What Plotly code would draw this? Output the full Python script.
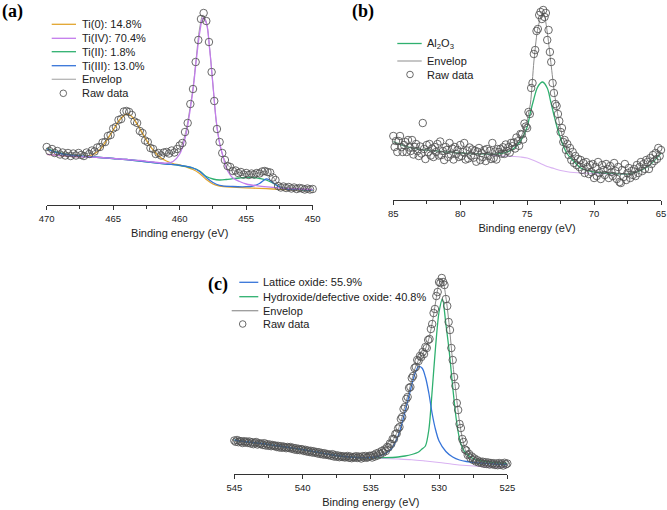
import numpy as np
import plotly.graph_objects as go

# ---------------- Panel (a): Ti 2p ----------------
a_raw_E = np.round(np.arange(470.0, 449.95, -0.2), 1)
a_raw_I = [58, 54, 56, 52, 54, 50.5, 52.5, 49.5, 52, 49,
           51.5, 49.5, 52, 50, 49, 52.5, 51, 54.5, 53.5, 57.5,
           58, 62.5, 63, 69, 70, 76.5, 78, 85, 86, 93.5,
           94, 93, 90, 83.5, 82, 74, 72, 64.5, 63, 57,
           56, 51, 52, 49.5, 52.5, 53, 51.5, 54.5, 52.5, 56,
           59.5, 62, 73, 82, 101, 116, 143, 165, 186, 192,
           184, 163, 133, 104, 76, 63, 52, 45, 39, 38,
           34, 34.5, 32, 33, 30.5, 32, 30, 31.5, 30.5, 32,
           31.5, 33.5, 34, 33, 32.5, 27.5, 25, 19, 17.5, 18.5,
           17, 18, 16.5, 17.5, 16, 17, 16.5, 15.5, 16.5, 15.5,
           16]

a_env_E = [470, 469.5, 469, 468.5, 468, 467.5, 467, 466.5, 466, 465.5, 465, 464.5, 464, 463.5, 463,
           462.5, 462, 461.5, 461, 460.5, 460, 459.75, 459.5, 459.25, 459, 458.75, 458.5, 458.25,
           458, 457.75, 457.5, 457.25, 457, 456.75, 456.5, 456, 455.5, 455, 454.5, 454, 453.5,
           453, 452.75, 452.5, 452, 451, 450]
a_env_I = [56.5, 54, 52, 51, 50.6, 50.7, 51.4, 53.7, 58.5, 65.5, 75, 84.5, 91, 87, 75.5,
           64, 55, 50.8, 51.7, 52.7, 57.5, 64, 76, 95, 117, 148, 177, 190,
           183, 157, 120, 83, 62, 49, 42, 35, 32.3, 31, 30.9, 32.2, 33.5,
           28.5, 23.5, 19, 17.3, 16.5, 15.4]

a_ti0_E = [470, 469, 468, 467, 466.5, 466, 465.5, 465, 464.5, 464, 463.75, 463.5, 463, 462.5, 462,
           461.5, 461, 460.5, 460, 459.5, 459, 458.5, 458, 457.5, 457, 456, 455, 454, 453, 452, 451, 450]
a_ti0_I = [50.7, 49.5, 48.5, 48.7, 50.5, 55.5, 64.5, 75, 85.5, 91, 90, 87, 76.5, 65, 55,
           48, 44, 41.5, 40, 38, 35.5, 31.5, 25.5, 21, 19, 17.8, 17.2, 16.6, 16, 15.4, 14.9, 14.4]

a_ti4_E = [470, 469, 468, 467, 466, 465, 464, 463, 462, 461, 460.5, 460, 459.75, 459.5, 459.25,
           459, 458.75, 458.5, 458.25, 458, 457.75, 457.5, 457.25, 457, 456.75, 456.5, 456.25,
           456, 455.5, 455, 454, 453, 452, 451, 450]
a_ti4_I = [50.7, 49.5, 48.5, 48, 47.5, 46.5, 45.5, 44.5, 43, 41.8, 43.5, 51, 60, 72, 92,
           115, 145, 172, 187, 182, 156, 120, 84, 62, 49, 37, 31,
           27, 23.5, 21, 18.8, 17.6, 16.7, 16, 15.5]

a_ti2_E = [470, 469.5, 469, 468, 467, 466, 465, 464, 463, 462, 461, 460, 459, 458.5, 458, 457.5,
           457, 456.5, 456, 455.5, 455, 454.5, 454, 453.5, 453, 452.5, 452, 451, 450]
a_ti2_I = [56.7, 54, 52, 49.5, 48.5, 47.5, 46.5, 45.5, 44, 42.5, 41, 39.5, 37, 34, 28.5, 26,
           25, 25.5, 26.3, 27, 27.5, 27.5, 26.5, 25, 22, 18, 16.5, 15.5, 15]

a_ti3_E = [470, 469.5, 469, 468, 467, 466, 465, 464, 463, 462, 461, 460, 459, 458.5, 458, 457.5,
           457, 456, 455, 454.5, 454, 453.5, 453.25, 453, 452.5, 452, 451, 450]
a_ti3_I = [56, 53.5, 51.5, 49.5, 48.5, 47.5, 46.5, 45.5, 44, 42.5, 41, 39.7, 37, 33.5, 27.5, 22.5,
           19.7, 18.5, 18.3, 19, 21.5, 26, 25, 22.5, 18, 16, 15.3, 14.8]

a_labels = ["Ti(0): 14.8%", "Ti(IV): 70.4%", "Ti(II): 1.8%", "Ti(III): 13.0%", "Envelop", "Raw data"]

# ---------------- Panel (b): Al 2p ----------------
b_raw_E = np.round(np.arange(85.0, 64.95, -0.1), 1)
b_raw_I = [64, 53, 59, 48, 59, 64, 53, 48, 55, 58,
           48, 60, 52.5, 49, 60, 45.5, 53, 56, 49, 44,
           53.5, 46.5, 77, 51, 41, 55, 48, 56, 44.5, 51.5,
           43, 53, 48, 56, 44.5, 58.5, 45, 49, 40, 53,
           50, 43, 57, 45.5, 51.5, 40.5, 53, 46, 50, 43,
           55, 44, 48, 57, 40.5, 49.5, 41.5, 52.5, 44.5, 50.5,
           42.3, 49.3, 38.3, 48.3, 52, 40, 47, 43, 50, 39,
           51, 44, 49, 41, 57, 42, 48.5, 40.5, 51, 48,
           51, 46.3, 52.7, 46.1, 55.5, 49, 52.7, 47.4, 57.1, 53.8,
           57.5, 51.5, 62.5, 58.7, 54.2, 66, 65.5, 60.5, 76.5, 73.5,
           72, 88, 86, 112, 117, 146, 150, 169, 171, 185,
           188, 181, 190, 183, 187, 160, 170, 148, 138, 117,
           107, 96, 94, 86, 79, 68, 72, 58, 60, 50,
           56, 45, 52, 40, 48, 37, 44, 35, 41, 33,
           40, 30, 37, 27, 38, 33, 26, 35, 28, 36,
           22, 33, 24, 38, 27, 21, 35, 30, 25, 36,
           31, 22, 34, 28, 24, 37, 29, 21, 33, 18,
           17, 30, 23, 36, 20, 27, 32, 22, 29, 25,
           31, 24, 35, 27, 33, 38, 29, 36, 31, 40,
           38, 31, 42, 36, 45, 39, 47, 41, 52, 44,
           50]

b_env_E = [85, 84, 83, 82, 81, 80, 79, 78, 77, 76.5, 76, 75.5, 75.25, 75, 74.75, 74.5, 74.25, 74,
           73.75, 73.5, 73.25, 73, 72.75, 72.5, 72.25, 72, 71.5, 71, 70.5, 70, 69, 68, 67.5, 67, 66, 65]
b_env_I = [58.3, 53.3, 50.7, 49.3, 48, 47, 46.3, 46.2, 47.5, 50, 54, 62, 70, 80, 97, 138, 168, 182,
           186, 168, 140, 111, 88, 71, 59, 51.5, 42, 35.5, 31, 29, 27.5, 26.5, 26.3, 27.5, 33.5, 47]

b_al_E = [85, 84, 83, 82, 81, 80, 79, 78, 77, 76.5, 76, 75.5, 75.25, 75, 74.75, 74.5, 74.25, 74,
          73.85, 73.5, 73.25, 73, 72.75, 72.5, 72.25, 72, 71.5, 71, 70.5, 70, 69, 68, 67.5, 67, 66, 65]
b_al_I = [58.3, 53.3, 50.7, 49.3, 48, 47, 46.3, 46, 46.3, 48, 51.5, 59, 65, 73, 88, 101, 112, 117,
          118, 112, 99, 85, 72, 61.5, 52.5, 46, 38.5, 32, 29.5, 28, 27, 26.2, 26, 27.3, 33.3, 46.7]

b_bg_E = [78, 77.5, 77, 76.5, 76, 75.5, 75, 74.5, 74, 73.5, 73, 72.5, 72, 71.5, 71, 70, 69, 68, 67.5]
b_bg_I = [45.5, 44.5, 44, 43.8, 43.5, 43, 42, 39.5, 36.5, 33.5, 31.5, 29.5, 28.3, 27.5, 27, 26.5, 26.2, 26, 25.9]

b_labels = ["Al<sub>2</sub>O<sub>3</sub>", "Envelop", "Raw data"]

# ---------------- Panel (c): O 1s ----------------
c_raw_E = np.round(np.arange(545.0, 524.95, -0.1), 1)
c_raw_I = [33.5, 32.2, 34, 31.8, 33, 32.5, 31, 32.8, 31.5, 32.5,
           31, 32.5, 30.5, 31.8, 29.8, 31.2, 32, 29.5, 30.8, 30,
           30.5, 29, 30.8, 28.5, 29.8, 28.2, 29.5, 27.8, 29, 28,
           28.5, 27, 28.2, 26.5, 27.8, 26.2, 27.5, 26.8, 25.8, 27,
           26, 27, 25.2, 26.2, 24.5, 25.8, 24, 25.2, 23.8, 24.8,
           24.5, 23, 24.2, 22.5, 23.5, 22, 23.2, 21.5, 22.8, 21.2,
           22, 20.5, 21.8, 20, 21, 19.5, 20.8, 19.2, 20, 18.8,
           19.5, 18.2, 19.8, 17.5, 18.8, 17.2, 18.5, 16.8, 18, 17,
           17.8, 16.5, 17.2, 18, 16.2, 17.5, 15.8, 17, 16.5, 17.8,
           16, 17.5, 16.8, 15.5, 17.8, 16.5, 18, 16.2, 17, 18.2,
           18, 16.5, 19, 17.5, 20.5, 18.5, 21.5, 20, 23, 21.5,
           24.5, 23, 27, 26.5, 30.5, 30, 35, 35, 40, 40.5,
           45.5, 47, 55, 57, 65, 67, 75, 77, 86, 87,
           96, 98, 106, 107, 114, 113, 118, 117, 122, 120,
           127, 126, 134, 135, 145, 150, 161, 165, 178, 182,
           192, 191, 196, 192, 189, 175, 168, 152, 144, 126,
           114, 97, 88, 71, 64, 50, 46, 35, 32, 24.5,
           23.5, 19, 20, 16, 17.5, 14, 15.5, 12.5, 13.8, 11.5,
           12.5, 11, 12.3, 10.2, 11.8, 10, 11.5, 9.5, 11, 9.8,
           10.8, 9, 10.5, 8.8, 11, 9.2, 10.4, 8.5, 11.2, 9.6,
           10.5]

c_env_E = [545, 544, 543, 542, 541, 540, 539, 538, 537, 536, 535, 534.5, 534, 533.5, 533, 532.5,
           532.25, 532, 531.75, 531.5, 531.25, 531, 530.75, 530.5, 530.25, 530, 529.75, 529.5,
           529.25, 529, 528.75, 528.5, 528.25, 528, 527.5, 527, 526, 525]
c_env_I = [33, 31.5, 30, 28, 26.3, 24, 21.5, 19.2, 17.5, 16.8, 17.3, 19.5, 23, 31, 44, 68,
           81, 94, 106, 114, 119, 125, 135, 151, 172, 190, 194, 177,
           148, 112, 80, 52, 33, 22, 15, 12, 10, 9.5]

c_lat_E = [545, 544, 543, 542, 541, 540, 539, 538, 537, 536, 535, 534.5, 534, 533.5, 533, 532.5,
           532, 531.75, 531.5, 531.25, 531, 530.75, 530.5, 530.25, 530, 529.5, 529, 528.5, 528,
           527, 526, 525]
c_lat_I = [34, 32, 30.5, 28.5, 26.5, 24.5, 22, 19.5, 17.5, 16.5, 16.5, 17.5, 20, 25, 38, 62,
           89, 101, 107.5, 106, 97, 81, 60, 44, 33, 22.5, 17, 14, 12.5,
           11, 10, 9.5]

c_hyd_E = [545, 544, 543, 542, 541, 540, 539, 538, 537, 536, 535, 534, 533, 532.5, 532, 531.5,
           531.25, 531, 530.75, 530.5, 530.25, 530, 529.75, 529.5, 529.25, 529, 528.75, 528.5,
           528.25, 528, 527.5, 527, 526, 525]
c_hyd_I = [34, 32, 30.5, 28.5, 26.5, 24.5, 22, 19.5, 17.5, 16.5, 16.2, 16.3, 17, 18, 19.5, 22,
           25, 28, 44, 84, 128, 162, 175, 150, 122, 87, 56, 35,
           25, 20, 15.5, 13.5, 11.5, 10.5]

c_bg_E = [536, 535, 534, 533, 532, 531, 530, 529, 528, 527, 526, 525]
c_bg_I = [16.5, 16, 15.5, 15, 14.3, 13, 11.5, 9.8, 8.5, 7.5, 7, 6.5]

c_labels = ["Lattice oxide: 55.9%", "Hydroxide/defective oxide: 40.8%", "Envelop", "Raw data"]

# ---------------- styling ----------------
W, H = 667, 510
ORANGE = "#E2A52E"
PURPLE = "#C37CEC"
GREEN = "#2FB06F"
BLUE = "#3674D9"
GRAY = "#9A9A9A"
PALE = "#D9B2F2"
MK = "#505050"
FONT = "Liberation Sans, Arial, sans-serif"


def px(x):
    return x / W


def py(y):
    return 1 - y / H


fig = go.Figure()


def line(x, y, color, width, xa, ya, smooth=1.0):
    fig.add_trace(go.Scatter(x=x, y=y, mode="lines", xaxis=xa, yaxis=ya,
                             line=dict(color=color, width=width, shape="spline", smoothing=smooth),
                             showlegend=False, hoverinfo="skip"))


def raw(x, y, xa, ya):
    fig.add_trace(go.Scatter(x=x, y=y, mode="markers", xaxis=xa, yaxis=ya, cliponaxis=False,
                             marker=dict(symbol="circle-open", size=7.5, color=MK,
                                         line=dict(width=0.85, color=MK)),
                             showlegend=False, hoverinfo="skip"))


# panel a
line(a_env_E, a_env_I, GRAY, 1.0, "x", "y")
line(a_ti0_E, a_ti0_I, ORANGE, 1.3, "x", "y")
line(a_ti2_E, a_ti2_I, GREEN, 1.3, "x", "y")
line(a_ti3_E, a_ti3_I, BLUE, 1.3, "x", "y")
line(a_ti4_E, a_ti4_I, PURPLE, 1.3, "x", "y")
raw(a_raw_E, a_raw_I, "x", "y")

# panel b
line(b_bg_E, b_bg_I, PALE, 1.1, "x2", "y2")
line(b_al_E, b_al_I, GREEN, 1.3, "x2", "y2")
line(b_env_E, b_env_I, "#8C8C8C", 1.0, "x2", "y2", 0.6)
raw(b_raw_E, b_raw_I, "x2", "y2")

# panel c
line(c_bg_E, c_bg_I, PALE, 1.1, "x3", "y3")
line(c_env_E, c_env_I, "#8C8C8C", 1.0, "x3", "y3", 0.8)
line(c_hyd_E, c_hyd_I, GREEN, 1.3, "x3", "y3", 0.8)
line(c_lat_E, c_lat_I, BLUE, 1.3, "x3", "y3")
raw(c_raw_E, c_raw_I, "x3", "y3")


def xaxis(dom, rng, anchor):
    return dict(domain=dom, range=rng, anchor=anchor, showline=True, linecolor="#333",
                linewidth=1.2, ticks="outside", ticklen=4, tickwidth=1, tickcolor="#333",
                dtick=5, showgrid=False, zeroline=False,
                tickfont=dict(family=FONT, size=9.5, color="#222"),
                minor=dict(dtick=2.5, ticks="outside", ticklen=2.5, tickcolor="#333", showgrid=False),
                title=dict(text="Binding energy (eV)", font=dict(family=FONT, size=11, color="#222"),
                           standoff=6))


def yaxis(dom, rng, anchor):
    return dict(domain=dom, range=rng, anchor=anchor, visible=False, fixedrange=True)


fig.update_layout(
    width=W, height=H, margin=dict(l=0, r=0, t=0, b=0, autoexpand=False),
    paper_bgcolor="white", plot_bgcolor="rgba(0,0,0,0)", showlegend=False,
    xaxis=xaxis([px(46.7), px(312.7)], [470, 450], "y"),
    yaxis=yaxis([py(205), py(5)], [0, 200], "x"),
    xaxis2=xaxis([px(393.3), px(661)], [85, 65], "y2"),
    yaxis2=yaxis([py(200), py(5)], [0, 195], "x2"),
    xaxis3=xaxis([px(234.3), px(507.3)], [545, 525], "y3"),
    yaxis3=yaxis([py(474), py(270)], [0, 204], "x3"),
)

annotations = []
shapes = []


def legend(rows, colors, x0, x1, xt, xm, labels, env_x0=None):
    for i, (yy, col, lab) in enumerate(zip(rows, colors, labels)):
        if col == "marker":
            shapes.append(dict(type="circle", xref="paper", yref="paper",
                               x0=px(xm - 3.3), x1=px(xm + 3.3), y0=py(yy + 3.3), y1=py(yy - 3.3),
                               line=dict(color=MK, width=0.85)))
        else:
            xs = x0
            if lab == "Envelop" and env_x0 is not None:
                xs = env_x0
            shapes.append(dict(type="line", xref="paper", yref="paper",
                               x0=px(xs), x1=px(x1), y0=py(yy), y1=py(yy),
                               line=dict(color=col, width=1.3)))
        annotations.append(dict(text=lab, xref="paper", yref="paper", x=px(xt), y=py(yy),
                                xanchor="left", yanchor="middle", showarrow=False,
                                font=dict(family=FONT, size=11, color="#222")))


legend([24.3, 38.3, 51.7, 65.7, 79.3, 93.3],
       [ORANGE, PURPLE, GREEN, BLUE, "#B5B5B5", "marker"],
       51.7, 76, 80, 63.3, a_labels)
legend([43.5, 61, 74.5], [GREEN, "#A8A8A8", "marker"], 397.3, 421.7, 425, 410, b_labels)
legend([282.3, 296.7, 310.7, 324], [BLUE, GREEN, "#9A9A9A", "marker"], 239.3, 258.3, 260.7, 242.7,
       c_labels, env_x0=231.7)

for lab, xx, yy in [("(a)", 12.5, 11), ("(b)", 363.5, 11), ("(c)", 218, 284)]:
    annotations.append(dict(text="<b>%s</b>" % lab, xref="paper", yref="paper", x=px(xx), y=py(yy),
                            xanchor="center", yanchor="middle", showarrow=False,
                            font=dict(family="Liberation Serif, Times New Roman, serif", size=18,
                                      color="black")))

fig.update_layout(annotations=annotations, shapes=shapes)
fig.write_html("out.html", config={"responsive": False, "displayModeBar": False},
               post_script="document.body.style.margin='0px';document.body.style.padding='0px';"
                           "document.documentElement.style.overflow='hidden';")
